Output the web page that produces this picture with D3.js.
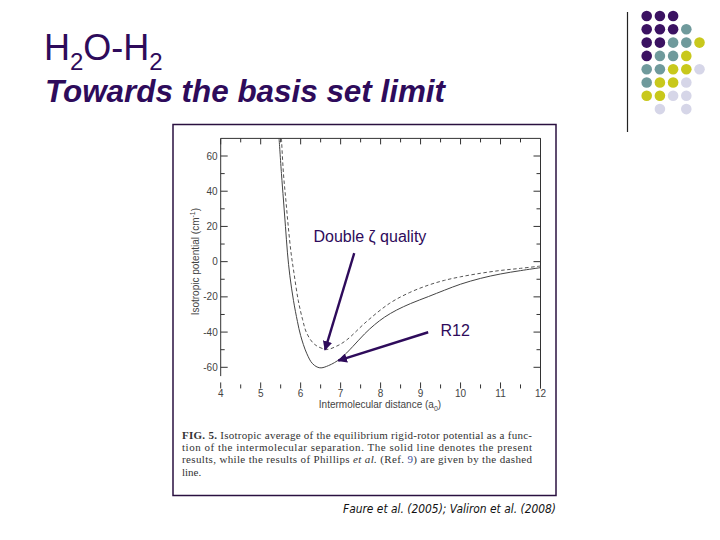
<!DOCTYPE html>
<html>
<head>
<meta charset="utf-8">
<script src="https://cdn.jsdelivr.net/npm/d3@7"></script>
<style>
  body { margin: 0; background: #fff; }
  svg { display: block; }
</style>
</head>
<body>
<svg id="slide" width="720" height="540"></svg>
<script>
// present results (solid) and Phillips et al. (dashed)
const solidX = [5.46, 5.52, 5.57, 5.62, 5.67, 5.73, 5.82, 5.92, 6.0, 6.15, 6.3, 6.48, 6.7, 7.0, 7.3, 7.6, 7.85, 8.1, 8.4, 8.75, 9.2, 9.6, 10.0, 10.5, 11.0, 11.5, 12.0];
const solidY = [70, 50, 35, 20, 5, -8, -22, -34, -42, -52, -58, -60.3, -59, -55, -48.3, -41, -35.8, -31.5, -27.5, -23.8, -19.8, -16.2, -12.8, -9.5, -7, -5.1, -3.4];
const dashedX = [5.52, 5.57, 5.63, 5.69, 5.76, 5.83, 5.94, 6.05, 6.15, 6.35, 6.65, 6.9, 7.15, 7.65, 8.23, 8.73, 9.2, 9.6, 10.0, 10.5, 11.0, 11.5, 12.0];
const dashedY = [70, 50, 35, 20, 5, -6, -22, -33, -40.5, -47, -49.8, -48, -44.5, -34, -23.6, -17.5, -13.3, -10.6, -8.6, -6.6, -5, -3.8, -2.5];

const xTicks = [4, 5, 6, 7, 8, 9, 10, 11, 12];
const yTicks = [-60, -40, -20, 0, 20, 40, 60];

// arrows: [label, text x, text y, from x, from y, to x, to y] in data units
const notes = [
  ["Double ζ quality", 6.32, 11, 7.34, 4.8, 6.61, -50.1],
  ["R12", 9.5, -42.5, 9.19, -40.1, 6.94, -56.2]
];

const dotRows = ["PPP", "PPPT", "PPTTY", "PTTY", "TTYYL", "TYYL", "YYLL", " L L"];
const dotColors = { P: "#3b1262", T: "#6f9a9c", Y: "#c8c81c", L: "#d6d6e8" };

const purple = "#2e0b5b";
const svg = d3.select("#slide");

// title
const t1 = svg.append("text")
  .attr("x", 44).attr("y", 60)
  .attr("font-family", "Liberation Sans, Arial, sans-serif")
  .attr("font-size", 36)
  .attr("fill", purple);
t1.append("tspan").text("H");
t1.append("tspan").attr("font-size", 24).attr("dy", 10).text("2");
t1.append("tspan").attr("dy", -10).text("O-H");
t1.append("tspan").attr("font-size", 24).attr("dy", 10).text("2");

svg.append("text")
  .attr("x", 45).attr("y", 102)
  .attr("font-family", "Liberation Sans, Arial, sans-serif")
  .attr("font-size", 31)
  .attr("font-weight", "bold")
  .attr("font-style", "italic")
  .attr("fill", purple)
  .attr("textLength", 400).attr("lengthAdjust", "spacingAndGlyphs")
  .text("Towards the basis set limit");

// decoration top right
svg.append("line")
  .attr("x1", 627.5).attr("x2", 627.5)
  .attr("y1", 12).attr("y2", 132)
  .attr("stroke", "#222").attr("stroke-width", 1.2);

const dots = [];
dotRows.forEach((row, r) => {
  row.split("").forEach((c, k) => {
    if (c !== " ") dots.push({ r: r, k: k, c: c });
  });
});
svg.append("g").selectAll("circle")
  .data(dots)
  .enter().append("circle")
  .attr("cx", d => 646.7 + d.k * 13.2)
  .attr("cy", d => 16 + d.r * 13.3)
  .attr("r", 5.3)
  .attr("fill", d => dotColors[d.c]);

// figure frame
svg.append("rect")
  .attr("x", 173).attr("y", 124.5)
  .attr("width", 383).attr("height", 371)
  .attr("fill", "none")
  .attr("stroke", "#2a1040")
  .attr("stroke-width", 1.5);

const x = d3.scaleLinear().domain([4, 12]).range([220.7, 540.5]);
const y = d3.scaleLinear().domain([-60, 60]).range([367.3, 156]);

const yTop = y(70), yBottom = y(-72);
const gray = "#444";

svg.append("defs").append("clipPath").attr("id", "plotclip")
  .append("rect")
  .attr("x", x(4)).attr("y", yTop)
  .attr("width", x(12) - x(4)).attr("height", yBottom - yTop);

// axis lines (bottom one faded out in the scan)
svg.append("line").attr("x1", x(4)).attr("x2", x(4)).attr("y1", yTop).attr("y2", y(-65))
  .attr("stroke", "#333").attr("stroke-width", 1);
svg.append("line").attr("x1", x(12)).attr("x2", x(12)).attr("y1", yTop).attr("y2", yBottom)
  .attr("stroke", "#333").attr("stroke-width", 1);
svg.append("line").attr("x1", x(4)).attr("x2", x(12)).attr("y1", yTop).attr("y2", yTop)
  .attr("stroke", "#333").attr("stroke-width", 1);

const xAll = d3.range(4, 12.01, 0.5);
const yAll = d3.range(-60, 60.01, 10);

const tickG = svg.append("g").attr("stroke", "#333").attr("stroke-width", 1);
xAll.forEach(v => {
  const len = Number.isInteger(v) ? 6 : 4;
  tickG.append("line").attr("x1", x(v)).attr("x2", x(v)).attr("y1", yTop).attr("y2", yTop + len);
  tickG.append("line").attr("x1", x(v)).attr("x2", x(v)).attr("y1", yBottom).attr("y2", yBottom - len);
});
yAll.forEach(v => {
  const len = v % 20 === 0 ? 7 : 4;
  tickG.append("line").attr("x1", x(4)).attr("x2", x(4) + len).attr("y1", y(v)).attr("y2", y(v));
  tickG.append("line").attr("x1", x(12)).attr("x2", x(12) - len).attr("y1", y(v)).attr("y2", y(v));
});

svg.append("g").selectAll("text")
  .data(xTicks)
  .enter().append("text")
  .attr("x", d => x(d)).attr("y", 396.5)
  .attr("text-anchor", "middle")
  .attr("font-family", "Liberation Sans, Arial, sans-serif")
  .attr("font-size", 10).attr("fill", gray)
  .text(d => d);

svg.append("g").selectAll("text")
  .data(yTicks)
  .enter().append("text")
  .attr("x", x(4) - 3).attr("y", d => y(d) + 3.5)
  .attr("text-anchor", "end")
  .attr("font-family", "Liberation Sans, Arial, sans-serif")
  .attr("font-size", 10).attr("fill", gray)
  .text(d => d);

const xt = svg.append("text")
  .attr("x", 380).attr("y", 407.5)
  .attr("text-anchor", "middle")
  .attr("font-family", "Liberation Sans, Arial, sans-serif")
  .attr("font-size", 10).attr("fill", gray);
xt.append("tspan").text("Intermolecular distance (a");
xt.append("tspan").attr("font-size", 7).attr("dy", 3).text("0");
xt.append("tspan").attr("dy", -3).text(")");

const yt = svg.append("text")
  .attr("transform", "translate(199," + y(0) + ") rotate(-90)")
  .attr("text-anchor", "middle")
  .attr("font-family", "Liberation Sans, Arial, sans-serif")
  .attr("font-size", 10).attr("fill", gray);
yt.append("tspan").text("Isotropic potential (cm");
yt.append("tspan").attr("font-size", 7).attr("dy", -4).text("-1");
yt.append("tspan").attr("dy", 4).text(")");

// curves
const line = d3.line()
  .x(d => x(d[0])).y(d => y(d[1]))
  .curve(d3.curveCatmullRom.alpha(0.5));

const curves = svg.append("g").attr("clip-path", "url(#plotclip)");
curves.append("path")
  .datum(d3.zip(dashedX, dashedY))
  .attr("d", line)
  .attr("fill", "none").attr("stroke", "#555")
  .attr("stroke-width", 1).attr("stroke-dasharray", "3.5,2.5");
curves.append("path")
  .datum(d3.zip(solidX, solidY))
  .attr("d", line)
  .attr("fill", "none").attr("stroke", "#444")
  .attr("stroke-width", 1);

// annotations
svg.append("defs").append("marker")
  .attr("id", "arrowhead")
  .attr("viewBox", "0 -5 10 10")
  .attr("refX", 9).attr("refY", 0)
  .attr("markerWidth", 4).attr("markerHeight", 4)
  .attr("markerUnits", "strokeWidth")
  .attr("orient", "auto")
  .append("path")
  .attr("d", "M0,-5L10,0L0,5Z")
  .attr("fill", purple);

const noteG = svg.append("g");
noteG.selectAll("line")
  .data(notes)
  .enter().append("line")
  .attr("x1", d => x(d[3])).attr("y1", d => y(d[4]))
  .attr("x2", d => x(d[5])).attr("y2", d => y(d[6]))
  .attr("stroke", purple).attr("stroke-width", 2.4)
  .attr("marker-end", "url(#arrowhead)");
noteG.selectAll("text")
  .data(notes)
  .enter().append("text")
  .attr("x", d => x(d[1])).attr("y", d => y(d[2]))
  .attr("font-family", "Liberation Sans, Arial, sans-serif")
  .attr("font-size", 16).attr("fill", purple)
  .text(d => d[0]);

// caption
const capFont = "Liberation Serif, Times New Roman, serif";
const cap = svg.append("g")
  .attr("font-family", capFont).attr("font-size", 11).attr("fill", "#333");
const c1 = cap.append("text").attr("x", 182).attr("y", 439)
  .attr("textLength", 350).attr("lengthAdjust", "spacing");
c1.append("tspan").attr("font-weight", "bold").text("FIG. 5. ");
c1.append("tspan").text("Isotropic average of the equilibrium rigid-rotor potential as a func-");
cap.append("text").attr("x", 182).attr("y", 451.2)
  .attr("textLength", 350).attr("lengthAdjust", "spacing")
  .text("tion of the intermolecular separation. The solid line denotes the present");
const c3 = cap.append("text").attr("x", 182).attr("y", 463.4)
  .attr("textLength", 350).attr("lengthAdjust", "spacing");
c3.append("tspan").text("results, while the results of Phillips ");
c3.append("tspan").attr("font-style", "italic").text("et al.");
c3.append("tspan").text(" (Ref. ");
c3.append("tspan").attr("fill", "#3a4fa0").text("9");
c3.append("tspan").text(") are given by the dashed");
cap.append("text").attr("x", 182).attr("y", 475.6).text("line.");

// reference
svg.append("text")
  .attr("x", 343).attr("y", 513)
  .attr("font-family", "DejaVu Sans, sans-serif")
  .attr("font-size", 13).attr("font-style", "italic")
  .attr("font-weight", 300)
  .attr("fill", "#111")
  .attr("textLength", 213).attr("lengthAdjust", "spacingAndGlyphs")
  .text("Faure et al. (2005); Valiron et al. (2008)");
</script>
</body>
</html>
